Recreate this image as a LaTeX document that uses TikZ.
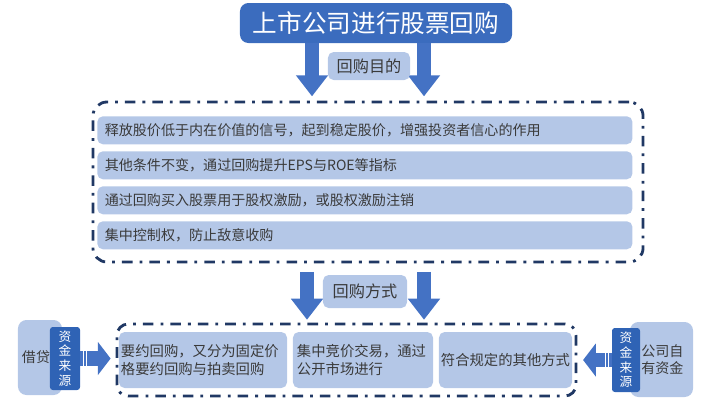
\documentclass[tikz,border=0pt]{standalone}
\usepackage{fontspec}
\setmainfont{Noto Sans CJK SC}
\usetikzlibrary{arrows.meta}
\definecolor{titleblue}{HTML}{3B6CBE}
\definecolor{arrowblue}{HTML}{4472C4}
\definecolor{paleblue}{HTML}{B4C7E7}
\definecolor{navy}{HTML}{203864}
\definecolor{srcblue}{HTML}{2F63B5}
\definecolor{ink}{HTML}{3A3A3A}
\tikzset{
  sz/.style 2 args={minimum width=#1cm,minimum height=#2cm},
  box/.style={fill=paleblue,rounded corners=4pt,inner sep=0pt,text=ink},
  dashframe/.style={draw=navy,line width=2pt,dash pattern=on 7.5pt off 5pt on 2pt off 5pt,inner sep=0pt},
  barrow/.style={draw=arrowblue,line width=10pt,-{Triangle[width=22pt,length=15pt]}},
  sarrow/.style={draw=arrowblue,line width=10.5pt,dash pattern=on 1.8pt off 0.7pt on 1.8pt off 0.7pt on 40pt off 0pt,-{Triangle[width=23pt,length=9pt]}},
  srcbox/.style={fill=srcblue,rounded corners=2pt,inner sep=0pt,text=white,font=\fontsize{9}{10.5}\selectfont,align=center}
}
\begin{document}
\begin{tikzpicture}[x=0.025cm,y=-0.025cm]
\useasboundingbox (0,0) rectangle (702,417);
% Title
\node[sz={6.8}{1.0},fill=titleblue,rounded corners=6pt,inner sep=0pt,text=white,font=\fontsize{17.5}{20}\selectfont] (title) at (376,23) {上市公司进行股票回购};

% Purposes of the buyback
\node[dashframe,sz={13.75}{4.0},rounded corners=10pt] (purpose) at (368,182) {};
\foreach \i/\txt in {0/{释放股价低于内在价值的信号，起到稳定股价，增强投资者信心的作用},
                     1/{其他条件不变，通过回购提升EPS与ROE等指标},
                     2/{通过回购买入股票用于股权激励，或股权激励注销},
                     3/{集中控制权，防止敌意收购}} {
  \node[box,anchor=north west,sz={13.375}{0.7},text width=13.0cm,align=left,font=\fontsize{10}{12}\selectfont] (p\i) at (97,{116+35*\i}) {\txt};
}
\coordinate (xa) at (312,0);
\coordinate (xb) at (424,0);
\draw[barrow,shorten >=3pt] (title.south -| xa) -- (purpose.north -| xa);
\draw[barrow,shorten >=3pt] (title.south -| xb) -- (purpose.north -| xb);
\node[box,sz={2.05}{0.7},font=\fontsize{11.5}{13}\selectfont] (why) at (369,66) {回购目的};

% Ways of the buyback
\node[dashframe,sz={11.475}{1.8},rounded corners=8pt] (ways) at (346.5,360) {};
\node[box,sz={4.2}{1.4},font=\fontsize{10.2}{12.8}\selectfont,text width=4.1cm,align=left] (w1) at (203,360) {要约回购，又分为固定价\\格要约回购与拍卖回购};
\node[box,sz={3.5}{1.4},font=\fontsize{10.2}{12.8}\selectfont,text width=3.3cm,align=left] (w2) at (363,360) {集中竞价交易，通过\\公开市场进行};
\node[box,sz={3.325}{1.4},font=\fontsize{10.2}{12.8}\selectfont] (w3) at (505.5,360) {符合规定的其他方式};
\coordinate (xc) at (307,0);
\coordinate (xd) at (424,0);
\draw[barrow,shorten <=6pt,shorten >=2pt] (purpose.south -| xc) -- (ways.north -| xc);
\draw[barrow,shorten <=6pt,shorten >=2pt] (purpose.south -| xd) -- (ways.north -| xd);
\node[box,sz={2.1}{0.825},font=\fontsize{11.5}{13}\selectfont] (how) at (365,291.5) {回购方式};

% Sources of funds
\node[box,sz={1.1}{1.875},rounded corners=6pt,font=\fontsize{10}{12}\selectfont,text width=0.9cm,align=left] (loan) at (40,357.5) {借贷};
\node[srcbox,sz={0.75}{1.575}] (srcL) at (65,358.5) {资\\金\\来\\源};
\draw[sarrow,shorten >=3.5pt] (srcL.east) -- (srcL.east -| ways.west);
\node[box,sz={1.575}{1.875},rounded corners=6pt,font=\fontsize{10}{12}\selectfont,text width=1.1cm,align=right] (own) at (661.5,359.5) {公司自\\有资金};
\node[srcbox,sz={0.7}{1.6}] (srcR) at (626,360) {资\\金\\来\\源};
\draw[sarrow,shorten >=4pt] (srcR.west) -- (srcR.west -| ways.east);
\end{tikzpicture}
\end{document}
